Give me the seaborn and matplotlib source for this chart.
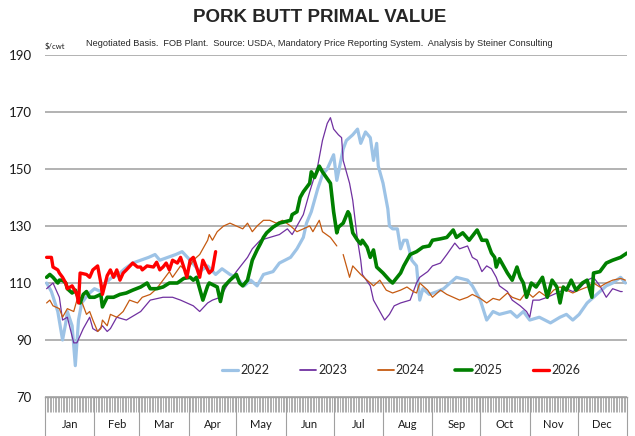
import numpy as np
import pandas as pd
import matplotlib
matplotlib.use("Agg")
import matplotlib.pyplot as plt
import seaborn as sns
from matplotlib.lines import Line2D
from matplotlib import transforms

sns.set_theme(style="white")
plt.rcParams["font.family"] = ["Lato", "DejaVu Sans"]

# ---------------- data (day of year, $/cwt) ----------------
d2022 = [1,4,8,11,13,14,17,19,21,23,27,31,35,38,42,46,50,55,60,65,69,72,77,82,86,91,97,102,107,111,
         116,120,125,129,133,137,143,147,154,158,162,164,167,171,174,177,181,183,187,189,193,196,198,201,204,206,208,209,212,215,
         216,218,221,223,225,227,230,233,235,237,241,246,250,254,258,265,268,273,277,281,285,292,296,300,304,310,317,323,327,331,
         335,340,344,348,352,356,361,364]
v2022 = [110,107,100,90,96,100,95,81,97,103,106,108,107,110,112,113,115,117,118,119,120,118,119,120,121,118,114,116,113,115,
         113,112,109,111,109,113,114,117,119,122,126,131,135,143,148,150,155,146,157,160,162,164,159,163,161,153,159,151,145,136,
         130,129,129,122,125,125,118,116,104,108,106,107,108,110,112,111,109,104,97,100,99,100,98,100,97,98,96,98,99,97,
         99,103,105,107,109,110,112,110]

d2023 = [1,5,9,11,14,18,20,24,28,30,33,36,39,41,45,51,60,66,74,80,85,89,93,97,102,105,110,114,120,127,
         130,135,141,147,152,155,158,162,166,171,174,177,179,181,184,186,187,189,191,193,196,198,199,204,206,210,213,216,219,223,
         229,233,235,240,243,248,252,257,260,265,268,271,274,277,280,283,285,290,293,298,302,304,306,310,315,319,323,327,331,335,
         340,344,348,352,356,361,362]
v2023 = [108,110,105,97,98,89,89,94,98,94,93,95,93,94,98,97,100,104,105,105,104,103,102,100,103,104,105,109,114,119,
         122,125,126,127,129,127,130,134,142,151,160,166,168,164,162,161,153,149,145,139,125,118,113,109,104,100,97,99,102,103,
         104,110,112,114,116,117,120,124,122,123,119,118,114,116,115,112,109,107,104,102,100,98,104,104,105,106,107,108,107,108,
         111,112,109,105,108,107,107]

d2024a = [1,3,5,9,11,14,18,20,22,24,26,28,30,33,35,36,39,41,45,49,53,58,61,66,70,74,78,80,85,89,
          93,97,102,103,105,108,112,116,120,124,127,130,133,137,141,145,149,154,158,162,166,168,172,174,179,183]
v2024a = [103,104,102,101,98,101,100,104,105,102,99,100,97,93,94,97,95,99,98,100,104,103,105,106,108,111,114,112,116,114,
          118,120,125,127,125,128,130,131,130,129,131,128,130,132,132,131,132,130,128,129,130,128,132,128,126,123]
d2024b = [187,191,193,198,202,206,210,214,218,223,227,231,233,235,240,243,248,252,256,260,265,268,273,277,281,285,290,293,298,302,
          306,310,315,319,323,327,331,335,340,344,348,352,356,361,364]
v2024b = [120,112,116,113,111,109,111,107.5,106.5,107.5,108.6,107,106.5,110,107.5,105,107.5,106,105,104,105,106,104.6,103,104.6,104,106.5,105,104,107,
          105,107,105,107.5,108.6,107.5,106.5,107.5,108.6,110,108.6,110,111,111.6,111]

d2025 = [1,3,5,8,9,11,13,14,17,19,21,22,24,26,28,31,35,36,39,43,47,51,55,60,64,66,70,74,78,83,
         87,91,93,95,99,102,103,108,110,112,116,120,122,124,127,129,130,133,135,137,139,143,147,154,155,158,160,162,166,167,
         169,172,174,177,179,181,183,184,187,190,191,193,196,198,199,202,204,206,208,212,216,218,223,225,229,233,237,241,243,248,
         252,256,258,262,266,271,274,277,280,282,283,285,290,293,296,298,300,302,305,308,312,315,318,321,323,325,327,330,333,337,
         340,343,344,348,352,356,361,365]
v2025 = [112,113,112,110,111,111,110,108,106.5,107.5,104.6,103,106,107,105,105,106,101.6,105,105,106,106.5,107.5,108.6,110,108,108,108.6,110,110,
         111.6,112,111,112,104,109,110,108.6,103.5,108.6,111,113,110,109,111,115.6,118,121.6,123.7,126,127.6,129.6,131,132,134,135,140,142,145,149,
         147,151,149,146.6,145,135,127.6,129.6,131,135,134,127.6,125,123.7,125,122.6,119,121.6,115.6,113.5,111,110,113.5,116,120,121,122.6,123,125,125.5,
         126,128.6,126,127.6,125,128.6,125,125,120.5,119,115.6,118.5,113.5,111,115.6,112,110,105,110,108.6,112,105,111,108.6,103,108.6,107.5,111,107.5,110,
         111,105,113.5,114,117,118,119,120.5]

d2026 = [1,4,5,8,9,11,13,14,17,20,21,22,26,28,30,33,35,36,39,41,43,45,47,49,51,55,58,60,61,64,
         68,70,72,74,76,78,80,83,85,87,89,91,93,95,97,99,102,103,105,107]
v2026 = [119,119,115.6,114.6,113.5,112,110,108,109,106,103,113.5,113,112,114.6,116,110,106,112.6,114.6,112,114.6,111,113.5,114.6,117,115.6,115.6,114.6,116,
         115.6,117.3,114.6,115.6,117,114.6,118,117,119,115.6,112,118,119,115.6,112,118,114.6,113.5,114.6,121]

months = ["Jan","Feb","Mar","Apr","May","Jun","Jul","Aug","Sep","Oct","Nov","Dec"]
month_edges = [0,31,59,90,120,151,181,212,243,273,304,334,365]
yticks = [70, 90, 110, 130, 150, 170, 190]

series = [
    ("2022", [(d2022, v2022)], "#9DC3E6", 2.3),
    ("2023", [(d2023, v2023)], "#7030A0", 0.9),
    ("2024", [(d2024a, v2024a), (d2024b, v2024b)], "#C55A11", 0.9),
    ("2025", [(d2025, v2025)], "#008000", 2.6),
    ("2026", [(d2026, v2026)], "#FF0000", 2.4),
]

rows = []
for name, segs, _, _ in series:
    for si, (dd, vv) in enumerate(segs):
        assert len(dd) == len(vv), name
        for d, v in zip(dd, vv):
            rows.append({"year": name, "seg": si, "day": d, "value": v})
df = pd.DataFrame(rows)

fig = plt.figure(figsize=(6.35, 4.36), dpi=100)
ax = fig.add_axes([0.0709, 0.0894, 0.9165, 0.7845])

handles = []
for name, _, color, lw in series:
    sub = df[df["year"] == name]
    sns.lineplot(data=sub, x="day", y="value", units="seg", estimator=None,
                 sort=False, color=color, linewidth=lw, ax=ax, legend=False)
    handles.append(Line2D([0], [0], color=color, lw=max(lw, 1.3), label=name))

ax.set_xlim(0, 365)
ax.set_ylim(70, 190)
ax.set_yticks(yticks)
ax.set_xlabel("")
ax.set_ylabel("")
ax.grid(axis="y", color="#A6A6A6", linewidth=1.2)
ax.grid(axis="x", visible=False)
ax.set_axisbelow(True)
for s in ["left", "top", "right"]:
    ax.spines[s].set_visible(False)
ax.spines["bottom"].set_color("#A0A0A0")
ax.spines["bottom"].set_linewidth(1.0)

ax.tick_params(axis="y", left=False, length=0, pad=9.5, labelsize=9.5, labelcolor="#1a1a1a")
ax.set_xticks(month_edges)
ax.set_xticks(np.arange(0, 366), minor=True)
ax.tick_params(axis="x", which="major", bottom=True, length=28, width=0.8, color="#A0A0A0",
               direction="out", labelbottom=False)
ax.tick_params(axis="x", which="minor", bottom=True, length=11, width=0.55, color="#999999",
               direction="out", labelbottom=False)

trans = transforms.blended_transform_factory(ax.transData, ax.transAxes)
for i, m in enumerate(months):
    mid = (month_edges[i] + month_edges[i + 1]) / 2
    ax.text(mid, -0.079, m, transform=trans, ha="center", va="center",
            fontsize=8, color="#1a1a1a")

leg = ax.legend(handles=handles, loc="center", bbox_to_anchor=(0.612, 0.079),
                ncol=5, frameon=False, fontsize=9, handlelength=1.3,
                handletextpad=0.15, columnspacing=2.45)

fig.text(0.503, 0.960, "PORK BUTT PRIMAL VALUE", ha="center", va="center",
         fontsize=13.5, fontweight="bold", family=["Liberation Sans", "DejaVu Sans"])
fig.text(0.503, 0.901,
         "Negotiated Basis.  FOB Plant.  Source: USDA, Mandatory Price Reporting System.  Analysis by Steiner Consulting",
         ha="center", va="center", fontsize=6.6, family=["Liberation Sans", "DejaVu Sans"])
fig.text(0.071, 0.893, r"\$/cwt", ha="left", va="center", fontsize=5.5, color="#1a1a1a")

fig.savefig("out.png", dpi=100)
